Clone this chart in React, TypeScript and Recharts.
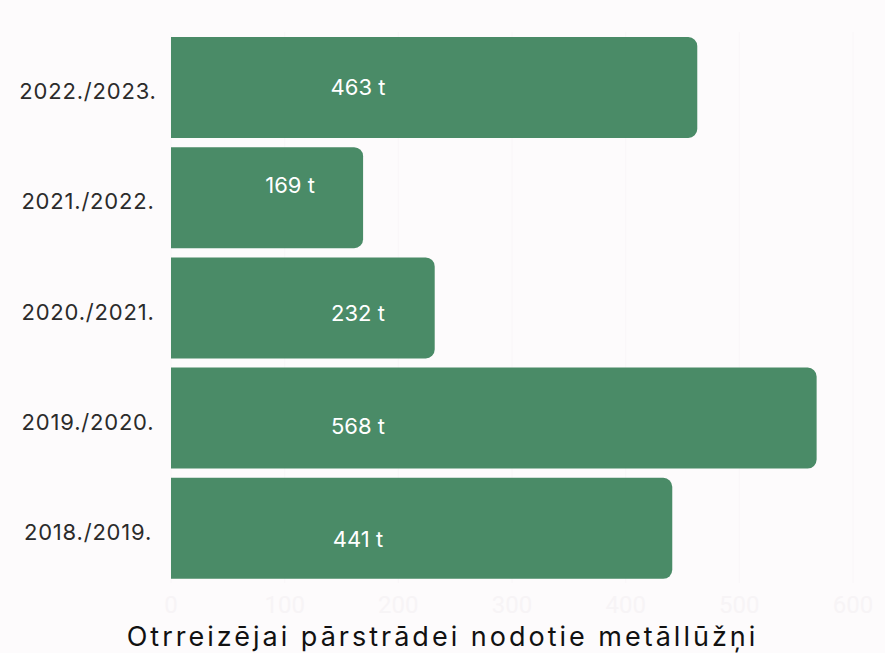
import React from 'react';
import { BarChart, Bar, XAxis, YAxis, CartesianGrid, LabelList } from 'recharts';

// dati
const seasons = ['2022./2023.', '2021./2022.', '2020./2021.', '2019./2020.', '2018./2019.'];
const tonnes = [463, 169, 232, 568, 441];
const xTicks = [0, 100, 200, 300, 400, 500, 600];
const title = 'Otrreizējai pārstrādei nodotie metāllūžņi';

// label vertical nudges (style only)
const labelNudge = [-1, -13, 5, 8, 11];

const data = seasons.map((s, i) => ({ name: s, value: tonnes[i] }));

const GREEN = '#4a8b67';
const BG = '#fdfbfc';
const FONT = 'Inter, "Noto Sans", sans-serif';

const YTick = (props: any) => {
    const { y, payload } = props;
    return (
        <text x={88} y={y + 4} textAnchor="middle" dominantBaseline="central" fontSize={22} letterSpacing={0.8} fill="#2b2b2b" fontFamily={FONT}>
            {payload.value}
        </text>
    );
};

const BarLabel = (props: any) => {
    const { x, y, width, height, value, index } = props;
    const cx = x + Math.min(187, width - 73);
    return (
        <text x={cx} y={y + height / 2 + (labelNudge[index] || 0)} textAnchor="middle" dominantBaseline="central" fontSize={22} fill="#fff" fontFamily={FONT}>
            {`${value} t`}
        </text>
    );
};

export default function App() {
    return (
        <div style={{ position: 'absolute', top: 0, left: 0, width: 885, height: 653, background: BG, fontFamily: FONT }}>
            <BarChart
                width={885}
                height={653}
                layout="vertical"
                data={data}
                margin={{ top: 32, right: 32, left: 0, bottom: 30 }}
                barSize={101}
            >
                <CartesianGrid horizontal={false} stroke="#f9f6f8" />
                <XAxis
                    type="number"
                    domain={[0, 600]}
                    ticks={xTicks}
                    axisLine={false}
                    tickLine={false}
                    tickMargin={7}
                    height={40}
                    tick={{ fontSize: 24, fill: '#f7f4f6', fontFamily: 'Roboto, sans-serif' }}
                />
                <YAxis
                    dataKey="name"
                    type="category"
                    width={171}
                    axisLine={false}
                    tickLine={false}
                    tick={<YTick />}
                />
                <Bar dataKey="value" fill={GREEN} radius={[0, 9, 9, 0]} isAnimationActive={false}>
                    <LabelList dataKey="value" content={<BarLabel />} />
                </Bar>
            </BarChart>
            <div style={{ position: 'absolute', left: 0, width: 885, top: 622, textAlign: 'center', fontSize: 27, letterSpacing: 3, color: '#111', fontFamily: FONT, lineHeight: '30px' }}>
                {title}
            </div>
        </div>
    );
}
